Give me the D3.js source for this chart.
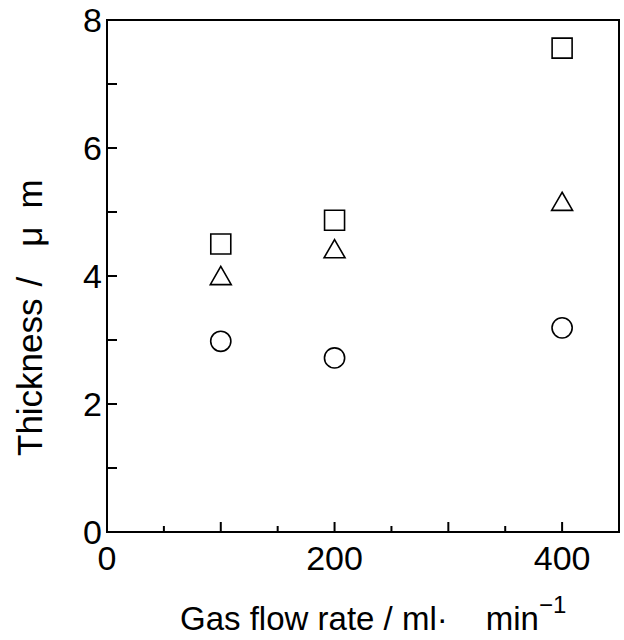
<!DOCTYPE html>
<html>
<head>
<meta charset="utf-8">
<script src="https://cdn.jsdelivr.net/npm/d3@7"></script>
<style>
  body { margin: 0; background: #fff; }
  text { font-family: "Liberation Sans", Arial, sans-serif; fill: #000; }
</style>
</head>
<body>
<svg id="chart" width="624" height="640"></svg>
<script>
// data
var flowRates = [100, 200, 400];
var squareVals = [4.50, 4.87, 7.56];
var triangleVals = [3.96, 4.38, 5.12];
var circleVals = [2.98, 2.72, 3.19];
var xTickLabels = [0, 200, 400];
var yTickLabels = [0, 2, 4, 6, 8];

var margin = { left: 107, right: 5, top: 20, bottom: 108 };
var width = 624 - margin.left - margin.right;
var height = 640 - margin.top - margin.bottom;

var svg = d3.select("#chart");
var g = svg.append("g").attr("transform", "translate(" + margin.left + "," + margin.top + ")");

var x = d3.scaleLinear().domain([0, 450]).range([0, width]);
var y = d3.scaleLinear().domain([0, 8]).range([height, 0]);

// frame
g.append("rect")
    .attr("width", width).attr("height", height)
    .attr("fill", "none").attr("stroke", "#000").attr("stroke-width", 2);

// x ticks: long every 100, short at the 50s
var xTicks = d3.range(50, 450, 50);
g.selectAll(".xt").data(xTicks).enter().append("line")
    .attr("x1", function (d) { return x(d); })
    .attr("x2", function (d) { return x(d); })
    .attr("y1", height)
    .attr("y2", function (d) { return d % 100 === 0 ? height - 10 : height - 6; })
    .attr("stroke", "#000").attr("stroke-width", 2);

// y ticks every 1
var yTicks = d3.range(1, 8, 1);
g.selectAll(".yt").data(yTicks).enter().append("line")
    .attr("x1", 0).attr("x2", 10)
    .attr("y1", function (d) { return y(d); })
    .attr("y2", function (d) { return y(d); })
    .attr("stroke", "#000").attr("stroke-width", 2);

// tick labels
g.selectAll(".xl").data(xTickLabels).enter().append("text")
    .attr("x", function (d) { return x(d); })
    .attr("y", height + 38)
    .attr("text-anchor", "middle")
    .attr("font-size", 34)
    .text(function (d) { return d; });

g.selectAll(".yl").data(yTickLabels).enter().append("text")
    .attr("x", -5)
    .attr("y", function (d) { return y(d) + 12; })
    .attr("text-anchor", "end")
    .attr("font-size", 34)
    .text(function (d) { return d; });

// axis titles
var xt = svg.append("text")
    .attr("x", 180).attr("y", 630)
    .attr("font-size", 33);
xt.append("tspan").text("Gas flow rate / ml");
xt.append("tspan").attr("dx", 0).text("·");
xt.append("tspan").attr("dx", 38).text("min");
xt.append("tspan").attr("dy", -17).attr("font-size", 24).text("\u22121");

var yt = svg.append("text")
    .attr("transform", "translate(42,456) rotate(-90)")
    .attr("font-size", 35);
yt.append("tspan").text("Thickness");
yt.append("tspan").attr("dx", 12).text("/");
yt.append("tspan").attr("dx", 30).text("μ");
yt.append("tspan").attr("dx", 18).text("m");

// markers
function drawSeries(vals, type, size) {
    var sym = d3.symbol().type(type).size(size);
    g.selectAll(null).data(vals).enter().append("path")
        .attr("d", sym)
        .attr("transform", function (d, i) { return "translate(" + x(flowRates[i]) + "," + y(d) + ")"; })
        .attr("fill", "none").attr("stroke", "#000").attr("stroke-width", 1.6);
}
drawSeries(squareVals, d3.symbolSquare, 400);
drawSeries(triangleVals, d3.symbolTriangle, 190);
drawSeries(circleVals, d3.symbolCircle, 320);
</script>
</body>
</html>
